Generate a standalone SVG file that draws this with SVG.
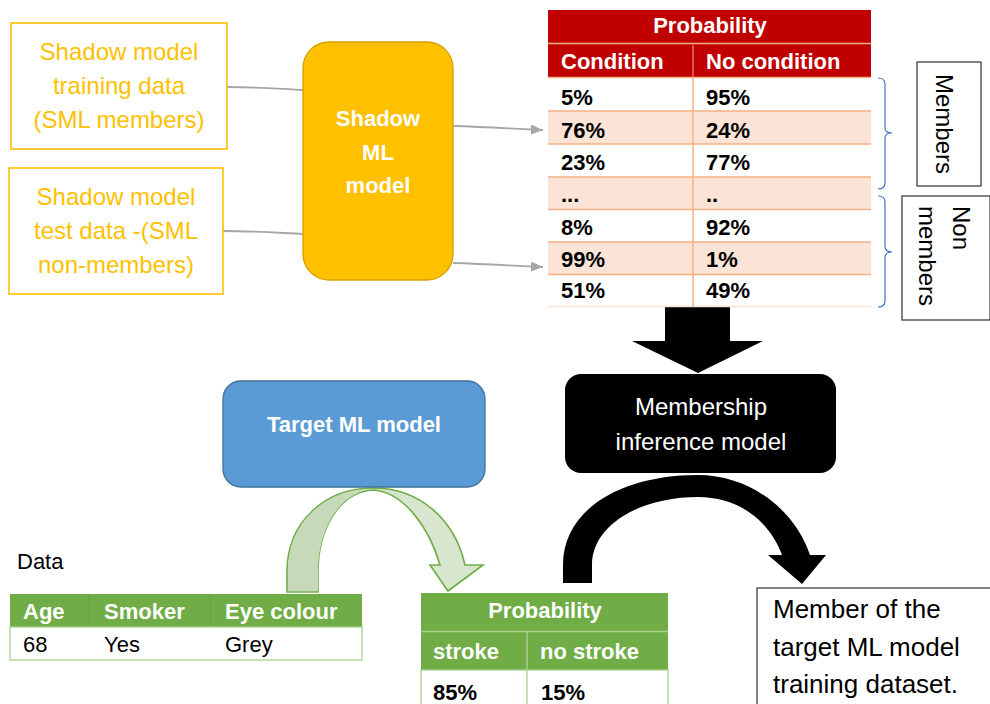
<svg xmlns="http://www.w3.org/2000/svg" width="990" height="704" viewBox="0 0 990 704">
<style>
text{font-family:"Liberation Sans",Arial,sans-serif}
.gold{fill:#FFC000;font-size:24px}
.wb{fill:#fff;font-weight:bold;font-size:22px}
.bb{fill:#000;font-weight:bold;font-size:22px}
.reg{fill:#000;font-size:22px}
.conn{fill:none;stroke:#A6A6A6;stroke-width:1.8}
.peach{stroke:#F4B183;stroke-width:1.5}
.lbox{fill:#fff;stroke:#404040;stroke-width:1.3}
.brk{fill:none;stroke:#4472C4;stroke-width:1.2}
</style>
<defs>
<marker id="ah" viewBox="0 0 12 10" refX="12" refY="5" markerWidth="12" markerHeight="10" markerUnits="userSpaceOnUse" orient="auto">
<path d="M0,0 L12,5 L0,10 Z" fill="#A6A6A6"/>
</marker>
</defs>
<rect width="990" height="704" fill="#fff"/>

<g id="connectors">
<path class="conn" d="M227,87 C260,87 280,89 303,90"/>
<path class="conn" d="M223,231 C256,231 280,233 303,234"/>
<path class="conn" d="M453,126 C490,127 515,129 543,130" marker-end="url(#ah)"/>
<path class="conn" d="M453,263 C490,264 515,266 543,267" marker-end="url(#ah)"/>
<polygon id="down-arrow" points="665,306 730,306 730,341 763,341 698,373 632,341 665,341" fill="#000"/>
<g id="green-curved-arrow">
<path d="M287,592 L287,572 C287,522 325,488 373,488 C420,488 455,520 465,565 L483,565 L448,591 L430,565 L440,565 C430,530 405,492 373,490 C340,492 318,528 318,572 L318,592 Z" fill="#D8E6CF" stroke="#70AD47" stroke-width="1.6"/>
<path d="M288,591 L288,572 C288,522 325,489 373,489 C340,492 318,528 318,572 L318,591 Z" fill="#C6D9B9"/>
</g>
<path id="black-curved-arrow" d="M563,583 L563,565 C563,510 620,475 698,475 C750,475 795,510 810,555 L826,555 L802,584 L768,555 L782,555 C770,522 740,497 698,497 C640,497 592,525 592,565 L592,583 Z" fill="#000"/>
</g>

<g id="shadow-train">
<rect x="11" y="23" width="216" height="126" fill="#fff" stroke="#FFC000" stroke-width="1.6"/>
<text class="gold" text-anchor="middle" x="119" y="60">Shadow model</text>
<text class="gold" text-anchor="middle" x="119" y="94">training data</text>
<text class="gold" text-anchor="middle" x="119" y="128">(SML members)</text>
</g>

<g id="shadow-test">
<rect x="9" y="168" width="214" height="126" fill="#fff" stroke="#FFC000" stroke-width="1.6"/>
<text class="gold" text-anchor="middle" x="116" y="205">Shadow model</text>
<text class="gold" text-anchor="middle" x="116" y="239">test data -(SML</text>
<text class="gold" text-anchor="middle" x="116" y="273">non-members)</text>
</g>

<g id="shadow-ml-model">
<rect x="303" y="42" width="150" height="238" rx="26" fill="#FFC000" stroke="#D5A100" stroke-width="1.3"/>
<text class="wb" text-anchor="middle" x="378" y="126">Shadow</text>
<text class="wb" text-anchor="middle" x="378" y="160">ML</text>
<text class="wb" text-anchor="middle" x="378" y="193">model</text>
</g>

<g id="prob-table-red">
<rect x="548" y="10" width="323" height="67" fill="#C00000"/>
<rect x="548" y="111" width="323" height="33" fill="#FBE4D5"/>
<rect x="548" y="177" width="323" height="32.5" fill="#FBE4D5"/>
<rect x="548" y="242" width="323" height="32.5" fill="#FBE4D5"/>
<line class="peach" x1="548" y1="43.5" x2="871" y2="43.5"/>
<line class="peach" x1="548" y1="77.5" x2="871" y2="77.5"/>
<line class="peach" x1="548" y1="111" x2="871" y2="111"/>
<line class="peach" x1="548" y1="144" x2="871" y2="144"/>
<line class="peach" x1="548" y1="177" x2="871" y2="177"/>
<line class="peach" x1="548" y1="209.5" x2="871" y2="209.5"/>
<line class="peach" x1="548" y1="242" x2="871" y2="242"/>
<line class="peach" x1="548" y1="274.5" x2="871" y2="274.5"/>
<line x1="548" y1="306.5" x2="871" y2="306.5" stroke="#FBE4D5" stroke-width="1.5"/>
<line x1="693" y1="45" x2="693" y2="77" stroke="#E07070" stroke-width="1.5"/>
<line class="peach" x1="693" y1="78" x2="693" y2="307"/>
<text class="wb" text-anchor="middle" x="710" y="33">Probability</text>
<text class="wb" x="561" y="69">Condition</text>
<text class="wb" x="706" y="69">No condition</text>
<text class="bb" x="561" y="105">5%</text><text class="bb" x="706" y="105">95%</text>
<text class="bb" x="561" y="137.5">76%</text><text class="bb" x="706" y="137.5">24%</text>
<text class="bb" x="561" y="169.5">23%</text><text class="bb" x="706" y="169.5">77%</text>
<text class="bb" x="561" y="202">...</text><text class="bb" x="706" y="202">..</text>
<text class="bb" x="561" y="234.5">8%</text><text class="bb" x="706" y="234.5">92%</text>
<text class="bb" x="561" y="266.5">99%</text><text class="bb" x="706" y="266.5">1%</text>
<text class="bb" x="561" y="298">51%</text><text class="bb" x="706" y="298">49%</text>
</g>

<g id="brackets">
<path class="brk" d="M878,78 Q885,78 885,84 L885,128 Q885,133 892,133 Q885,133 885,138 L885,183 Q885,189 878,189"/>
<path class="brk" d="M878,196 Q885,196 885,202 L885,246 Q885,252 892,252 Q885,252 885,258 L885,301 Q885,307 878,307"/>
</g>

<g id="members-label">
<rect class="lbox" x="917" y="62" width="64" height="124"/>
<text transform="translate(936,124) rotate(90)" text-anchor="middle" font-size="24" fill="#000">Members</text>
</g>

<g id="non-members-label">
<rect class="lbox" x="902" y="196" width="88" height="124"/>
<text transform="translate(953,206) rotate(90)" font-size="24" fill="#000">Non</text>
<text transform="translate(919,206) rotate(90)" font-size="24" fill="#000">members</text>
</g>

<g id="membership-inference-model">
<rect x="565" y="374" width="271" height="99" rx="16" fill="#000"/>
<text text-anchor="middle" x="701" y="415" font-size="24" fill="#fff">Membership</text>
<text text-anchor="middle" x="701" y="450" font-size="24" fill="#fff">inference model</text>
</g>

<g id="target-ml-model">
<rect x="223" y="381" width="262" height="106" rx="18" fill="#5B9BD5" stroke="#41719C" stroke-width="1.3"/>
<text class="wb" text-anchor="middle" x="354" y="432">Target ML model</text>
</g>

<g id="data-table">
<text class="reg" x="17" y="569">Data</text>
<rect x="10" y="594" width="352" height="33" fill="#70AD47"/>
<line x1="89" y1="594" x2="89" y2="627" stroke="#66A040" stroke-width="1"/>
<line x1="210" y1="594" x2="210" y2="627" stroke="#66A040" stroke-width="1"/>
<rect x="10" y="627" width="352" height="33" fill="#fff" stroke="#A9D08E" stroke-width="1.3"/>
<text class="wb" x="23" y="619">Age</text>
<text class="wb" x="104" y="619">Smoker</text>
<text class="wb" x="225" y="619">Eye colour</text>
<text class="reg" x="23" y="652">68</text>
<text class="reg" x="104" y="652">Yes</text>
<text class="reg" x="225" y="652">Grey</text>
</g>

<g id="prob-table-green">
<rect x="421" y="593" width="247" height="77" fill="#70AD47"/>
<line x1="421" y1="631.5" x2="668" y2="631.5" stroke="#A9D08E" stroke-width="1.5"/>
<line x1="527" y1="632" x2="527" y2="670" stroke="#A9D08E" stroke-width="1.5"/>
<rect x="421" y="670" width="247" height="40" fill="#fff" stroke="#A9D08E" stroke-width="1.3"/>
<line x1="527" y1="670" x2="527" y2="704" stroke="#A9D08E" stroke-width="1.3"/>
<text class="wb" text-anchor="middle" x="545" y="618">Probability</text>
<text class="wb" x="433" y="659">stroke</text>
<text class="wb" x="540" y="659">no stroke</text>
<text class="bb" x="433" y="700">85%</text>
<text class="bb" x="541" y="700">15%</text>
</g>

<g id="member-result">
<rect class="lbox" x="757" y="588" width="240" height="130"/>
<text x="773" y="618" font-size="26" fill="#000">Member of the</text>
<text x="773" y="656" font-size="26" fill="#000">target ML model</text>
<text x="773" y="693" font-size="26" fill="#000">training dataset.</text>
</g>
</svg>
